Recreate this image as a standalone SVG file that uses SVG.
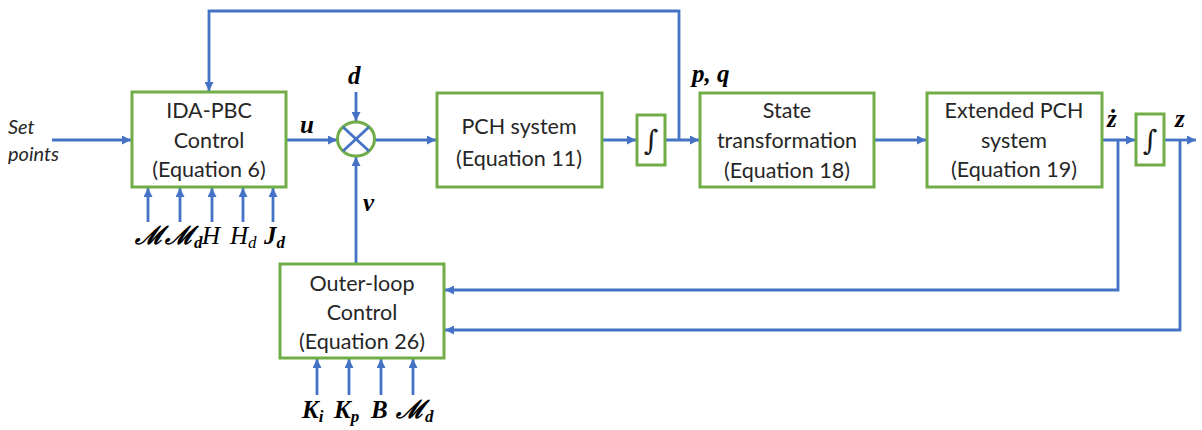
<svg xmlns="http://www.w3.org/2000/svg" width="1202" height="430" viewBox="0 0 1202 430">
  <defs>
    <marker id="arrow" viewBox="0 0 10 10" refX="10" refY="5" markerWidth="9" markerHeight="9" markerUnits="userSpaceOnUse" orient="auto">
      <path d="M0,0 L10,5 L0,10 z" fill="#4472C4"/>
    </marker>
    <style>
      .box { fill: #ffffff; stroke: #70AD47; stroke-width: 3; }
      .wire { fill: none; stroke: #4472C4; stroke-width: 2.8; }
      .arr { fill: none; stroke: #4472C4; stroke-width: 2.8; marker-end: url(#arrow); }
      .lbl { font-family: Lato, "Open Sans", sans-serif; font-size: 21.5px; fill: #262626; text-anchor: middle; }
      .math { font-family: "Liberation Serif", "DejaVu Serif", serif; font-weight: bold; font-style: italic; font-size: 25px; fill: #000000; }
      .plain { font-weight: normal; }
      .sub { font-size: 17px; }
      .it { font-family: Lato, "Open Sans", sans-serif; font-style: italic; font-size: 20px; fill: #262626; }
      .int { font-family: "DejaVu Serif", serif; font-size: 28px; fill: #1a1a1a; text-anchor: middle; }
    </style>
  </defs>

  <rect width="1202" height="430" fill="#ffffff"/>

  <!-- connectors -->
  <g id="connectors">
    <!-- set points into controller -->
    <line class="arr" x1="52" y1="140" x2="131" y2="140"/>
    <!-- p,q feedback over the top into the controller -->
    <polyline class="arr" points="679,140 679,11 209,11 209,91"/>
    <!-- controller output u to junction -->
    <line class="arr" x1="286" y1="140" x2="337" y2="140"/>
    <!-- disturbance d -->
    <line class="arr" x1="356" y1="92" x2="356" y2="121"/>
    <!-- outer loop v into junction -->
    <line class="arr" x1="356" y1="264" x2="356" y2="157"/>
    <!-- junction to PCH system -->
    <line class="arr" x1="375" y1="140" x2="436" y2="140"/>
    <!-- PCH to integrator -->
    <line class="arr" x1="602" y1="140" x2="636" y2="140"/>
    <!-- integrator to state transformation -->
    <line class="arr" x1="665" y1="140" x2="699" y2="140"/>
    <!-- state transformation to extended PCH -->
    <line class="arr" x1="874" y1="140" x2="926" y2="140"/>
    <!-- extended PCH to integrator -->
    <line class="arr" x1="1102" y1="140" x2="1135" y2="140"/>
    <!-- integrator output z -->
    <line class="arr" x1="1164" y1="140" x2="1196" y2="140"/>
    <!-- z-dot feedback to outer loop -->
    <polyline class="arr" points="1118,140 1118,290 445,290"/>
    <!-- z feedback to outer loop -->
    <polyline class="arr" points="1180,140 1180,330 445,330"/>
    <!-- controller parameter inputs -->
    <line class="arr" x1="148" y1="222" x2="148" y2="188"/>
    <line class="arr" x1="180" y1="222" x2="180" y2="188"/>
    <line class="arr" x1="212" y1="222" x2="212" y2="188"/>
    <line class="arr" x1="243" y1="222" x2="243" y2="188"/>
    <line class="arr" x1="273" y1="222" x2="273" y2="188"/>
    <!-- outer-loop gain inputs -->
    <line class="arr" x1="317" y1="395" x2="317" y2="359"/>
    <line class="arr" x1="349" y1="395" x2="349" y2="359"/>
    <line class="arr" x1="381" y1="395" x2="381" y2="359"/>
    <line class="arr" x1="413" y1="395" x2="413" y2="359"/>
  </g>

  <!-- set points label -->
  <g id="setpoints">
    <text class="it" x="8" y="134">Set</text>
    <text class="it" x="8" y="161">points</text>
  </g>

  <g id="ida-pbc">
    <rect class="box" x="132" y="92" width="154" height="95"/>
    <text class="lbl" x="209" y="118">IDA-PBC</text>
    <text class="lbl" x="209" y="148">Control</text>
    <text class="lbl" x="209" y="177">(Equation 6)</text>
  </g>

  <g id="junction">
    <ellipse cx="356" cy="139" rx="18.5" ry="17" fill="#ffffff" stroke="#70AD47" stroke-width="3"/>
    <line class="wire" x1="343" y1="127" x2="369" y2="151"/>
    <line class="wire" x1="369" y1="127" x2="343" y2="151"/>
  </g>

  <g id="pch">
    <rect class="box" x="437" y="93" width="165" height="94"/>
    <text class="lbl" x="519" y="134">PCH system</text>
    <text class="lbl" x="519" y="166">(Equation 11)</text>
  </g>

  <g id="integrator1">
    <rect class="box" x="637" y="115" width="28" height="50"/>
    <text class="int" x="651" y="150">∫</text>
  </g>

  <g id="state">
    <rect class="box" x="700" y="93" width="174" height="94"/>
    <text class="lbl" x="787" y="118">State</text>
    <text class="lbl" x="787" y="148">transformation</text>
    <text class="lbl" x="787" y="178">(Equation 18)</text>
  </g>

  <g id="extended">
    <rect class="box" x="927" y="93" width="175" height="94"/>
    <text class="lbl" x="1014" y="118">Extended PCH</text>
    <text class="lbl" x="1014" y="148">system</text>
    <text class="lbl" x="1014" y="177">(Equation 19)</text>
  </g>

  <g id="integrator2">
    <rect class="box" x="1136" y="114" width="28" height="51"/>
    <text class="int" x="1150" y="150">∫</text>
  </g>

  <g id="outer">
    <rect class="box" x="280" y="264" width="164" height="94"/>
    <text class="lbl" x="362" y="291">Outer-loop</text>
    <text class="lbl" x="362" y="320">Control</text>
    <text class="lbl" x="362" y="349">(Equation 26)</text>
  </g>

  <!-- signal labels -->
  <g id="signals">
    <text class="math" x="300" y="133">u</text>
    <text class="math" x="348" y="84">d</text>
    <text class="math" x="363" y="211">v</text>
    <text class="math" x="692" y="82">p, q</text>
    <text class="math" x="1107" y="127">ż</text>
    <text class="math" x="1175" y="127">z</text>
  </g>

  <g id="ida-params">
    <text class="math" x="135" y="244">ℳ</text>
    <text class="math" x="165" y="244">ℳ<tspan class="sub" dy="4">d</tspan></text>
    <text class="math plain" x="202" y="244">H</text>
    <text class="math plain" x="230" y="244">H<tspan class="sub" dy="4">d</tspan></text>
    <text class="math" x="264" y="244">J<tspan class="sub" dy="4">d</tspan></text>
  </g>

  <g id="outer-params">
    <text class="math" x="302" y="418">K<tspan class="sub" dy="4">i</tspan></text>
    <text class="math" x="334" y="418">K<tspan class="sub" dy="4">p</tspan></text>
    <text class="math" x="371" y="418">B</text>
    <text class="math" x="396" y="418">ℳ<tspan class="sub" dy="4">d</tspan></text>
  </g>
</svg>
